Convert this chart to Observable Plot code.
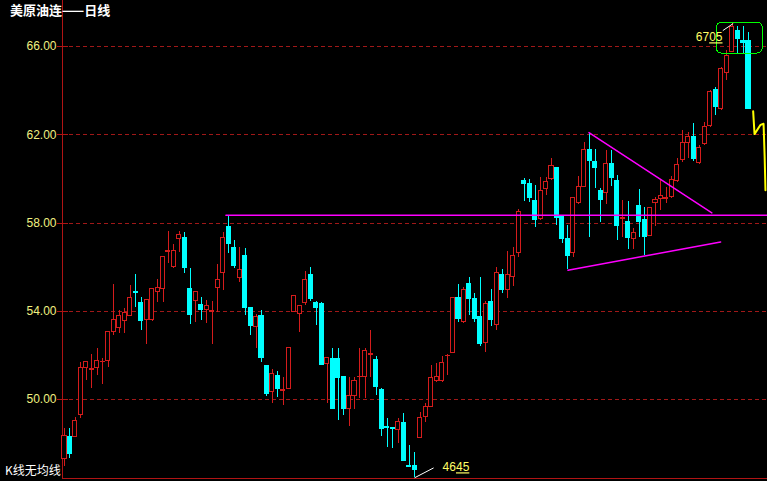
<!DOCTYPE html>
<html><head><meta charset="utf-8">
<script src="https://cdn.jsdelivr.net/npm/d3@7"></script>
<script src="https://cdn.jsdelivr.net/npm/@observablehq/plot@0.6"></script>
<style>
html,body{margin:0;padding:0;background:#000;}
#wrap{position:relative;width:767px;height:481px;overflow:hidden;background:#000;}
#title{position:absolute;left:10px;top:2px;color:#fff;font:bold 13px "Noto Sans CJK SC";line-height:16px;}
#foot{position:absolute;left:5px;top:462px;color:#fff;font:12px "Noto Sans CJK SC";line-height:15px;}
svg rect, svg line{shape-rendering:crispEdges;}
</style></head><body>
<div id="wrap"><div id="chart"></div><div id="title">美原油连——日线</div><div id="foot">K线无均线</div></div>
<script>
// daily candles (index 1..126)
const opens = [47.31,48.31,48.31,49.30,51.43,51.36,51.43,51.68,51.74,53.06,53.24,53.55,53.78,54.87,54.37,53.60,53.60,54.87,55.00,56.70,
56.00,57.27,57.31,55.00,54.46,54.28,54.05,53.98,55.05,55.73,57.81,56.86,55.50,56.50,54.14,53.28,53.78,51.52,50.34,51.07,
50.37,50.48,53.96,53.87,54.37,55.64,54.37,54.32,51.61,51.84,51.84,51.02,49.57,50.16,51.00,51.02,52.04,51.79,50.43,48.74,
48.69,48.62,48.94,46.97,47.00,48.26,49.21,49.66,50.84,50.84,51.95,52.11,54.60,53.51,55.23,54.55,53.74,52.56,54.41,53.37,
55.64,54.96,55.55,56.63,59.89,59.75,58.99,58.17,59.53,59.98,60.48,58.26,57.27,56.63,58.90,59.62,61.29,60.75,59.44,59.35,
60.66,59.89,58.20,58.03,57.27,58.76,58.12,57.40,58.90,59.08,59.10,59.17,59.89,60.84,61.61,61.88,60.70,61.56,62.38,64.01,
63.15,64.82,65.77,66.68,66.23,66.23];
const highs = [48.67,48.67,49.17,51.70,51.70,52.02,52.29,51.88,53.06,55.23,54.05,54.14,55.18,55.68,54.64,54.51,55.05,55.46,56.45,57.63,
57.04,57.63,57.58,55.95,54.87,54.64,54.51,54.46,56.13,57.58,58.35,57.22,56.90,56.86,54.19,53.87,54.05,51.56,51.34,51.29,
50.98,52.38,54.69,54.23,55.82,56.00,54.46,54.41,51.88,52.29,52.29,51.02,51.02,50.98,52.29,52.29,53.15,51.97,50.48,49.12,
48.69,49.12,49.35,47.90,47.58,49.39,49.80,51.52,51.65,51.97,52.02,54.60,55.23,55.09,55.55,54.82,55.55,54.46,55.00,56.00,
55.91,56.72,56.90,58.62,60.03,59.98,59.71,60.07,60.07,60.93,60.48,58.35,57.90,59.17,60.12,61.65,62.06,61.34,59.57,61.29,
61.29,60.16,59.03,58.99,57.76,59.53,58.71,58.71,59.17,59.93,59.62,60.12,60.93,62.20,62.11,62.52,61.52,62.56,64.01,64.14,
65.05,65.82,67.05,66.90,66.90,66.63];
const lows = [46.95,47.31,48.31,49.12,50.88,50.52,51.11,50.70,51.47,52.92,52.97,53.01,53.74,54.19,53.15,52.51,53.55,54.41,54.41,56.18,
55.95,56.68,55.73,53.42,53.51,53.60,53.46,52.51,53.96,54.96,56.63,55.95,55.32,53.83,52.92,52.29,51.70,50.12,49.84,50.07,
49.71,50.48,53.96,53.06,54.28,54.46,53.37,51.56,49.84,49.53,49.03,49.26,48.76,49.53,50.03,50.03,51.02,50.16,48.31,47.81,
47.76,47.99,47.17,46.90,46.45,48.22,48.98,49.62,50.79,50.79,51.07,52.11,53.51,53.46,53.83,53.51,52.42,52.15,53.33,53.15,
54.82,54.60,55.14,56.45,58.99,58.94,57.81,58.12,59.26,59.93,57.90,57.08,55.91,56.45,58.85,59.62,57.36,59.57,58.03,58.85,
59.66,57.22,57.36,56.81,56.81,57.36,56.54,57.40,57.85,58.58,58.90,59.12,59.84,60.75,60.93,60.79,60.66,61.52,62.33,62.88,
63.10,64.46,65.73,65.68,65.68,63.15];
const closes = [48.35,47.54,49.03,51.43,51.70,51.40,51.74,51.72,53.06,53.60,53.78,53.92,54.60,54.82,53.55,54.51,55.00,55.05,56.45,56.74,
56.72,57.45,55.95,53.83,54.87,54.05,54.23,54.02,55.41,57.31,57.04,56.04,55.86,54.14,53.33,53.74,51.88,50.25,51.16,50.48,
50.41,52.33,54.69,54.23,55.41,54.55,54.14,51.56,51.88,49.57,50.98,49.57,50.16,50.84,51.04,52.20,52.08,50.57,48.67,48.70,
48.65,48.98,47.22,46.93,46.81,49.17,49.66,50.98,51.02,51.65,51.99,54.60,53.65,54.96,54.55,53.65,52.51,54.32,53.60,55.73,
54.96,55.64,56.50,58.49,59.75,59.12,58.12,59.44,59.84,60.57,58.22,57.27,56.50,59.12,59.62,61.29,60.79,60.48,59.03,60.66,
60.03,57.85,58.24,57.31,57.54,58.03,57.36,58.67,59.03,59.21,59.14,59.93,60.61,61.61,61.88,60.89,61.38,62.33,63.92,63.24,
65.00,65.59,66.90,66.36,66.18,63.15];

// y-axis ticks
const yTicks = [50, 54, 58, 62, 66];
const xDomain = [0.634, 129.47];
const yDomain = [46.42, 68.085];

// drawn trend lines (index, price)
const resistLine = [{i: 30.5, p: 58.35}, {i: 129.5, p: 58.35}];
const upperTri = [{i: 96.85, p: 62.10}, {i: 119.3, p: 58.46}];
const lowerTri = [{i: 93.0, p: 55.86}, {i: 120.9, p: 57.14}];
// live tail (yellow)
const tail = [{i: 126.85, p: 63.06}, {i: 127.1, p: 62.03}, {i: 128.2, p: 62.45}, {i: 128.75, p: 62.50}, {i: 128.95, p: 61.00}, {i: 129.1, p: 59.49}];
// extreme labels
const extremes = [
  {text: "6705", i: 121.25, p: 66.41, anchor: "end", li1: 121.3, lp1: 66.72, li2: 123.2, lp2: 67.04},
  {text: "4645", i: 70.1, p: 46.92, anchor: "start", li1: 64.96, lp1: 46.45, li2: 68.45, lp2: 46.90}
];
const highlightBox = [{i1: 120.2, i2: 128.6, p1: 65.68, p2: 67.08}];

const candles = opens.map((o, k) => ({i: k + 1, o, h: highs[k], l: lows[k], c: closes[k]}));
const ups = candles.filter(d => d.c >= d.o);
const downs = candles.filter(d => d.c < d.o);

const RED = "#d41c1c", AXRED = "#b01414", GRID = "#a01818", CYAN = "#00ffff", MAG = "#ff00ff";
const W = 767, H = 481, ML = 62;

const chart = Plot.plot({
  width: W, height: H,
  marginLeft: ML, marginRight: 0, marginTop: 0, marginBottom: 3,
  style: {background: "#000", color: "#f0f080", fontFamily: "Liberation Sans, Arial, sans-serif", fontSize: "12px", overflow: "visible"},
  x: {type: "linear", domain: xDomain, axis: null},
  y: {domain: yDomain, axis: "left", ticks: yTicks, tickFormat: d => d.toFixed(2), tickSize: 0, tickPadding: 6, label: null},
  marks: [
    Plot.ruleY(yTicks, {stroke: GRID, strokeDasharray: "4,3"}),
    Plot.ruleX([xDomain[0]], {stroke: AXRED}),
    Plot.ruleY([yDomain[0]], {stroke: AXRED}),
    Plot.ruleY(yTicks, {stroke: AXRED, insetLeft: -5, insetRight: W - ML - 6}),
    // candles
    Plot.ruleX(ups, {x: "i", y1: "l", y2: "h", stroke: RED}),
    Plot.rect(ups, {x1: d => d.i - 0.37, x2: d => d.i + 0.37, y1: "o", y2: "c", fill: "#000", stroke: RED}),
    Plot.ruleX(downs, {x: "i", y1: "l", y2: "h", stroke: CYAN}),
    Plot.rect(downs, {x1: d => d.i - 0.37, x2: d => d.i + 0.37, y1: "o", y2: "c", fill: CYAN, stroke: CYAN}),
    // drawings
    Plot.line(resistLine, {x: "i", y: "p", stroke: MAG}),
    Plot.line(upperTri, {x: "i", y: "p", stroke: MAG}),
    Plot.line(lowerTri, {x: "i", y: "p", stroke: MAG}),
    Plot.line(tail, {x: "i", y: "p", stroke: "#ffff00", strokeWidth: 2}),
    Plot.rect(highlightBox, {x1: "i1", x2: "i2", y1: "p1", y2: "p2", rx: 5, fill: "none", stroke: "#00ff00"}),
    Plot.link(extremes, {x1: "li1", y1: "lp1", x2: "li2", y2: "lp2", stroke: "#fff"}),
    Plot.text(extremes.filter(d => d.anchor === "end"), {x: "i", y: "p", text: "text", textAnchor: "end", fill: "#ffff66", fontSize: 12}),
    Plot.text(extremes.filter(d => d.anchor === "start"), {x: "i", y: "p", text: "text", textAnchor: "start", fill: "#ffff66", fontSize: 12})
  ]
});
document.getElementById("chart").appendChild(chart);
// underline the last two digits like the original software labels
const labelTexts = extremes.map(d => d.text);
d3.select(chart).selectAll("text").filter(function () { return labelTexts.includes(this.textContent); }).each(function () {
  const t = this.textContent;
  const s = d3.select(this);
  s.text(null);
  s.append("tspan").text(t.slice(0, 2));
  s.append("tspan").attr("text-decoration", "underline").text(t.slice(2));
});
</script>
</body></html>
